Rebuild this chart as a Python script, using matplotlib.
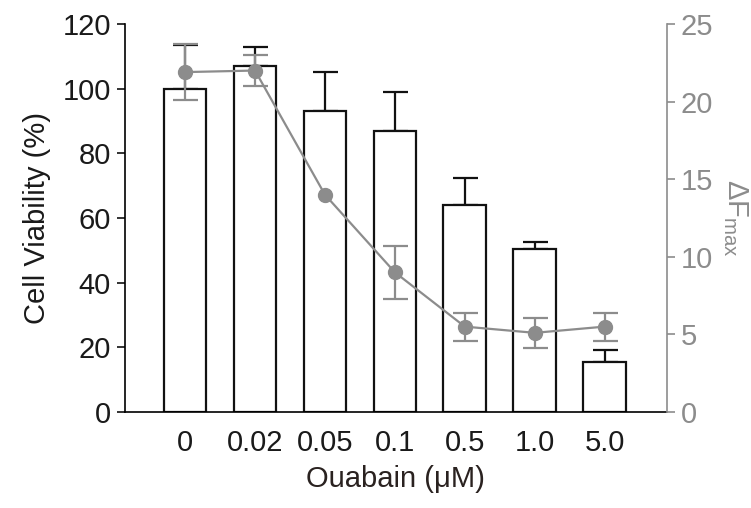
import matplotlib.pyplot as plt
import numpy as np

plt.rcParams['font.family'] = ['Liberation Sans', 'DejaVu Sans']
plt.rcParams['mathtext.fontset'] = 'custom'
plt.rcParams['mathtext.rm'] = 'Liberation Sans'
plt.rcParams['mathtext.it'] = 'Liberation Sans'

doses = ['0', '0.02', '0.05', '0.1', '0.5', '1.0', '5.0']
viability = [100, 107, 93, 87, 64, 50.5, 15.5]
viability_err = [13.5, 6, 12, 12, 8.5, 2, 3.7]
dfmax = [21.9, 22.0, 14.0, 9.0, 5.5, 5.1, 5.5]
dfmax_err = [1.8, 1.0, 0.0, 1.7, 0.9, 0.95, 0.9]

black = '#111111'
gray = '#8c8c8c'
fs = 21

fig = plt.figure(figsize=(7.51, 5.08), dpi=100)
ax = fig.add_axes([0.1664, 0.189, 0.7216, 0.7638])
x = np.arange(len(doses))

ax.bar(x, viability, width=0.61, color='white', edgecolor=black, linewidth=1.6, zorder=2)
ax.errorbar(x, viability, yerr=[np.zeros(len(x)), viability_err], fmt='none',
            ecolor=black, elinewidth=1.6, capsize=9, capthick=1.6, zorder=1)

ax.set_xlim(-0.86, 6.89)
ax.set_ylim(0, 120)
ax.set_yticks(range(0, 121, 20))
ax.set_xticks(x)
ax.set_xticklabels(doses)
ax.tick_params(axis='both', labelsize=fs, length=6, width=1.2, color=black, labelcolor='#1a1a1a')
ax.tick_params(axis='x', length=0, pad=12)
ax.tick_params(axis='y', pad=4)
ax.spines['top'].set_visible(False)
ax.spines['right'].set_visible(False)
ax.spines['left'].set_linewidth(1.2)
ax.spines['bottom'].set_linewidth(1.2)
ax.set_ylabel('Cell Viability (%)', fontsize=fs, labelpad=8, color='#1a1a1a')
ax.set_xlabel('Ouabain (μM)', fontsize=fs, labelpad=6, color='#2a2220')

ax2 = ax.twinx()
# error bars only where there is a visible spread
has_err = np.array(dfmax_err) > 0
ax2.errorbar(x[has_err], np.array(dfmax)[has_err], yerr=np.array(dfmax_err)[has_err],
             fmt='none', ecolor=gray, elinewidth=1.6, capsize=9, capthick=1.6, zorder=2)
ax2.plot(x, dfmax, '-o', color=gray, markersize=10, linewidth=1.6, zorder=3)
ax2.set_ylim(0, 25)
ax2.set_yticks(range(0, 26, 5))
ax2.tick_params(axis='y', labelsize=fs, length=6, width=1.2, color=gray, labelcolor=gray, pad=4)
ax2.spines['top'].set_visible(False)
ax2.spines['left'].set_visible(False)
ax2.spines['bottom'].set_visible(False)
ax2.spines['right'].set_color(gray)
ax2.spines['right'].set_linewidth(1.2)
ax2.set_ylabel('ΔF$_{\\mathrm{max}}$', fontsize=fs, color=gray, rotation=270, labelpad=26)

fig.savefig('out.png', dpi=100)
